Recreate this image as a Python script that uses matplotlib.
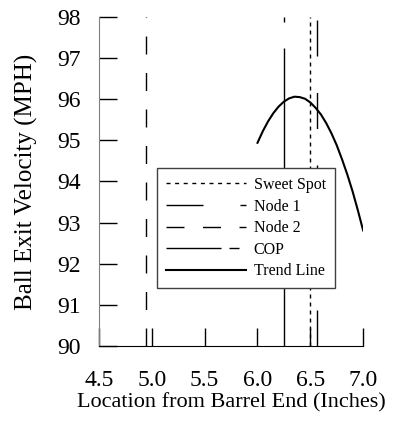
import numpy as np
import matplotlib.pyplot as plt
from matplotlib.lines import Line2D

plt.rcParams['font.family'] = ['Liberation Serif', 'DejaVu Serif']
plt.rcParams['lines.scale_dashes'] = False

# locations along the barrel (inches)
sweet_spot = 6.5
node1 = 6.25
node2 = 4.94
cop = 6.56

# trend line
trend_x = [6.00, 6.05, 6.10, 6.15, 6.20, 6.25, 6.30, 6.35, 6.40, 6.45, 6.50,
           6.55, 6.60, 6.65, 6.70, 6.75, 6.80, 6.85, 6.90, 6.95, 7.00]
trend_y = [94.94, 95.22, 95.46, 95.66, 95.82, 95.94, 96.02, 96.06, 96.05, 96.01, 95.92,
           95.79, 95.63, 95.42, 95.17, 94.88, 94.54, 94.17, 93.76, 93.30, 92.81]

x_ticks = [4.5, 5.0, 5.5, 6.0, 6.5, 7.0]
x_labels = ['4.5', '5.0', '5.5', '6.0', '6.5', '7.0']
y_ticks = [90, 91, 92, 93, 94, 95, 96, 97, 98]
y_lim = (90, 98)

px = 72 / 100  # pixels -> points

fig = plt.figure(figsize=(3.93, 4.22), dpi=100)
ax = fig.add_axes([0.252, 0.180, 0.672, 0.78])

ax.plot([sweet_spot, sweet_spot], y_lim, color='black', lw=1,
        dashes=(4 * px, 4 * px))
ax.plot([node1, node1], y_lim, color='black', lw=1,
        dashes=(298 * px, 26 * px, 10 * px, 200 * px))
ax.plot([node2, node2], y_lim, color='black', lw=1,
        dashes=(18 * px, 18.5 * px))
ax.plot([cop, cop], y_lim, color='black', lw=1,
        dashes=(36 * px, 36.5 * px))
ax.plot(trend_x, trend_y, color='black', lw=1.5)

ax.set_xlim(4.5, 7.0)
ax.set_ylim(*y_lim)
ax.set_xticks(x_ticks)
ax.set_xticklabels(x_labels)
ax.set_yticks(y_ticks)

for s in ['top', 'right']:
    ax.spines[s].set_visible(False)
ax.spines['left'].set_color('#808080')
ax.spines['bottom'].set_color('black')
ax.tick_params(axis='both', direction='in', length=13, width=1, color='black',
               labelsize=17)
ax.tick_params(axis='y', pad=13)
ax.tick_params(axis='x', pad=17)

ax.set_xlabel('Location from Barrel End (Inches)', fontsize=16, labelpad=2)
ax.set_ylabel('Ball Exit Velocity (MPH)', fontsize=18, labelpad=14)

handles = [
    Line2D([], [], color='black', lw=1, dashes=(4 * px, 4.6 * px)),
    Line2D([], [], color='black', lw=1, dashes=(37 * px, 37 * px)),
    Line2D([], [], color='black', lw=1, dashes=(18 * px, 18.5 * px)),
    Line2D([], [], color='black', lw=1, dashes=(55 * px, 8 * px, 10 * px, 7 * px)),
    Line2D([], [], color='black', lw=1.5),
]
labels = ['Sweet Spot', 'Node 1', 'Node 2', 'COP', 'Trend Line']
leg = ax.legend(handles, labels, loc='lower left', bbox_to_anchor=(0.22, 0.176),
                borderaxespad=0, fontsize=11.5, handlelength=5.0,
                handletextpad=0.5, labelspacing=0.35, borderpad=0.55,
                fancybox=False, framealpha=1, edgecolor='#404040')
leg.get_frame().set_linewidth(1)

fig.savefig('out.png', dpi=100)
